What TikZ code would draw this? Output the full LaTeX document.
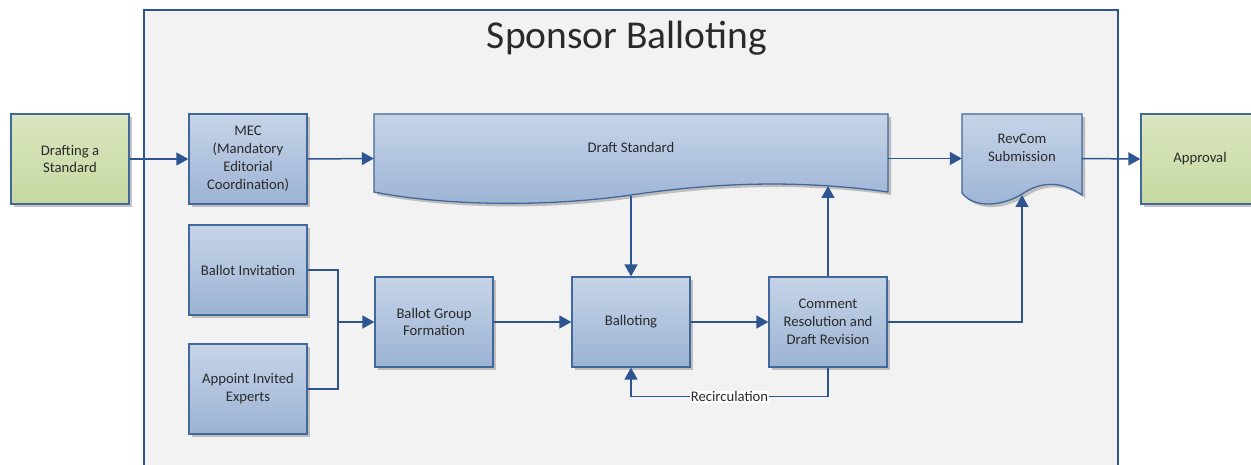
\documentclass[tikz,border=0pt]{standalone}
\usepackage{fontspec}
\setmainfont{Carlito}
\usetikzlibrary{arrows.meta,shadows,positioning}

\definecolor{boxtop}{HTML}{C6D4E8}
\definecolor{boxbot}{HTML}{9CB3D4}
\definecolor{greentop}{HTML}{DAE6C0}
\definecolor{greenbot}{HTML}{C6D8A0}
\definecolor{edge}{HTML}{41689A}
\definecolor{flow}{HTML}{2C5592}
\definecolor{panel}{HTML}{F2F2F2}
\definecolor{ink}{HTML}{2A2A2A}

\begin{document}
\begin{tikzpicture}[x=1pt,y=-1pt,
    every node/.style={font=\fontsize{14.67}{17.9}\selectfont, text=ink, align=center},
    shaded/.style={draw=edge, line width=1.3pt, top color=boxtop, bottom color=boxbot,
      drop shadow={shadow xshift=3pt, shadow yshift=-3pt, fill=black!45, opacity=0.5}},
    task/.style={shaded, rectangle, minimum width=118pt, minimum height=90pt, inner sep=2pt},
    phase/.style={task, top color=greentop, bottom color=greenbot},
    frame/.style={minimum width=#1, minimum height=89pt, inner sep=0pt},
    flowline/.style={draw=flow, line width=1.5pt},
    arr/.style={flowline, -{Triangle[length=12pt,width=13pt]}}]
    \clip (0,0) rectangle (1251,465);
    \fill [white] (0,0) rectangle (1251,465);
    % sponsor balloting panel
    \draw [fill=panel, draw=flow, line width=2.2pt] (144,10) rectangle (1118,480);
    \node [anchor=base, font=\fontsize{39.5}{44}\selectfont] (title) at (627,49) {Sponsor Balloting};

    \node [phase] (drafting) at (70,159) {Drafting a\\Standard};
    \node [task] (mec) at (248,159) {MEC\\(Mandatory\\Editorial\\Coordination)};
    \node [task] (invite) at (248,270) {Ballot Invitation};
    \node [task] (experts) at (248,389) {Appoint Invited\\Experts};
    \node [task] (group) at (434,322) {Ballot Group\\Formation};
    \node [task] (balloting) at (631,322) {Balloting};
    \node [task] (comment) at (828,322) {Comment\\Resolution and\\Draft Revision};
    \node [phase] (approval) at (1200,159) {Approval};

    % document shapes
    \path [shaded] (374,114) -- (888,114) -- (888,192)
        .. controls (800,180) and (720,182) .. (631,195)
        .. controls (540,208) and (440,205) .. (374,192) -- cycle;
    \node [frame=514pt] (draft) at (631,158.5) {};
    \node (drafttext) at (631,147) {Draft Standard};
    \path [shaded] (962,114) -- (1082,114) -- (1082,195)
        .. controls (1060,180) and (1040,182) .. (1022,194)
        .. controls (1005,205) and (975,210) .. (962,193) -- cycle;
    \node [frame=120pt] (revcom) at (1022,158.5) {};
    \node (revcomtext) at (1022,148) {RevCom\\Submission};

    \coordinate (draftlow) at (631,196);
    \coordinate (draftup) at (828,186);
    \coordinate (revlow) at (1022,195);
    \coordinate (merge) at (338,322);

    % connectors
    \draw [arr] (drafting.east) -- (mec.west);
    \draw [arr] (mec.east) -- (draft.west);
    \draw [arr] (draft.east) -- (revcom.west);
    \draw [arr] (revcom.east) -- (approval.west);
    \draw [flowline] (invite.east) -| (merge);
    \draw [flowline] (experts.east) -| (merge);
    \draw [arr] (merge) -- (group.west);
    \draw [arr] (group.east) -- (balloting.west);
    \draw [arr] (balloting.east) -- (comment.west);
    \draw [arr] (draftlow) -- (balloting.north);
    \draw [arr] (comment.north) -- (draftup);
    \draw [arr] (comment.east) -| (revlow);
    \draw [arr] (comment.south) -- ++(0,29) -| (balloting.south)
        node [pos=0.25, fill=white, inner sep=1pt] (recirc) {Recirculation};
\end{tikzpicture}
\end{document}
